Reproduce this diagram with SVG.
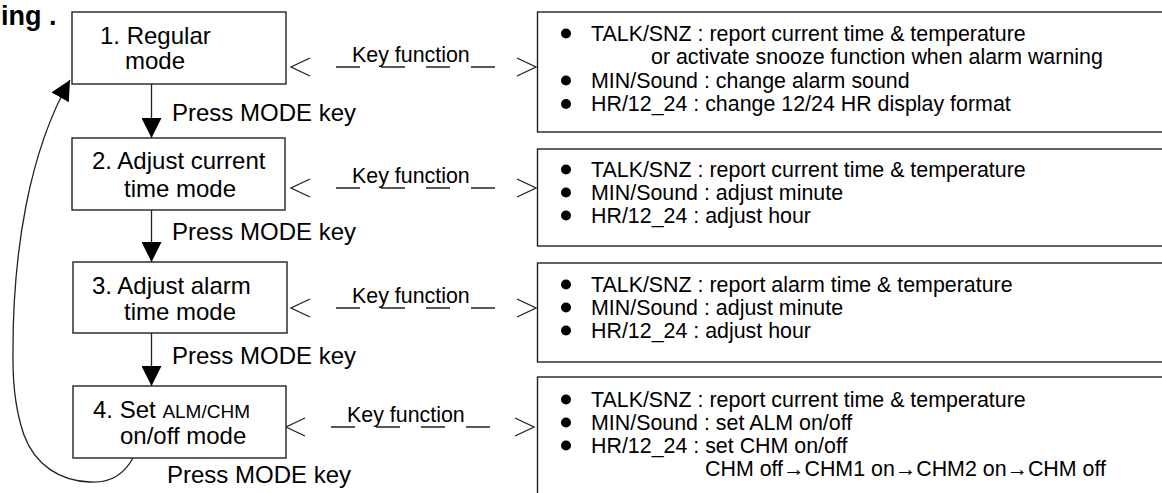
<svg xmlns="http://www.w3.org/2000/svg" width="1162" height="493" viewBox="0 0 1162 493">
<defs>
<marker id="ah" markerUnits="userSpaceOnUse" markerWidth="20" markerHeight="20" viewBox="0 0 20 20" refX="20" refY="10" orient="auto"><path d="M0,0 L20,10 L0,20 z" fill="#000"/></marker>
</defs>
<style>
.box{fill:#fff;stroke:#222;stroke-width:1.4}
.t{font-family:"Liberation Sans",Arial,sans-serif;fill:#000}
.lt{font-size:24px}
.sm{font-size:19px}
.rt{font-size:21.4px}
.conn{stroke:#222;stroke-width:1.3;fill:none}
.dash{stroke-dasharray:24 21}
.bul{fill:#000}
</style>
<rect width="1162" height="493" fill="#fff"/>
<text class="t" x="1" y="25" font-size="27" font-weight="bold">ing .</text>

<g id="connectors">
<line class="conn" x1="151.5" y1="84" x2="151.5" y2="138" marker-end="url(#ah)"/>
<line class="conn" x1="151.5" y1="210" x2="151.5" y2="262" marker-end="url(#ah)"/>
<line class="conn" x1="151.5" y1="333" x2="151.5" y2="386" marker-end="url(#ah)"/>
<path class="conn" d="M133,458 C122,478 105,483 90,482 C60,481 35,465 24,435 C16,412 13,390 13,360 C12,250 30,150 70,80" marker-end="url(#ah)"/>
<text class="t lt" x="172" y="121">Press MODE key</text>
<text class="t lt" x="172" y="240">Press MODE key</text>
<text class="t lt" x="172" y="364">Press MODE key</text>
<text class="t lt" x="167" y="483">Press MODE key</text>

<g id="kf1">
<polyline class="conn" points="310,58 291,67 310,76"/>
<line class="conn dash" x1="336" y1="67" x2="496" y2="67"/>
<polyline class="conn" points="517,58 536,67 517,76"/>
<text class="t rt" x="352" y="62">Key function</text>
</g>
<g id="kf2">
<polyline class="conn" points="310,179 291,188 310,197"/>
<line class="conn dash" x1="336" y1="188" x2="496" y2="188"/>
<polyline class="conn" points="517,179 536,188 517,197"/>
<text class="t rt" x="352" y="183">Key function</text>
</g>
<g id="kf3">
<polyline class="conn" points="310,299 291,308 310,317"/>
<line class="conn dash" x1="336" y1="308" x2="496" y2="308"/>
<polyline class="conn" points="517,299 536,308 517,317"/>
<text class="t rt" x="352" y="303">Key function</text>
</g>
<g id="kf4">
<polyline class="conn" points="305,418 286,427 305,436"/>
<line class="conn dash" x1="331" y1="427" x2="491" y2="427"/>
<polyline class="conn" points="515,418 534,427 515,436"/>
<text class="t rt" x="347" y="422">Key function</text>
</g>
</g>

<g id="mode1">
<rect class="box" x="72" y="12" width="214" height="72"/>
<text class="t lt" x="100" y="44">1. Regular</text>
<text class="t lt" x="125" y="69">mode</text>
</g>
<g id="mode2">
<rect class="box" x="72" y="138" width="213" height="72"/>
<text class="t lt" x="92" y="169">2. Adjust current</text>
<text class="t lt" x="124" y="197">time mode</text>
</g>
<g id="mode3">
<rect class="box" x="73" y="262" width="214" height="71"/>
<text class="t lt" x="92" y="294">3. Adjust alarm</text>
<text class="t lt" x="124" y="320">time mode</text>
</g>
<g id="mode4">
<rect class="box" x="73" y="386" width="213" height="72"/>
<text class="t lt" x="93" y="418">4. Set <tspan class="sm">ALM/CHM</tspan></text>
<text class="t lt" x="120" y="444">on/off mode</text>
</g>

<g id="keys1">
<rect class="box" x="537.5" y="12" width="700" height="120"/>
<circle class="bul" cx="566" cy="33.5" r="5"/>
<circle class="bul" cx="566" cy="80.5" r="5"/>
<circle class="bul" cx="566" cy="104" r="5"/>
<text class="t rt" x="591" y="41">TALK/SNZ : report current time &amp; temperature</text>
<text class="t rt" x="651" y="64">or activate snooze function when alarm warning</text>
<text class="t rt" x="591" y="88">MIN/Sound : change alarm sound</text>
<text class="t rt" x="591" y="111">HR/12_24 : change 12/24 HR display format</text>
</g>
<g id="keys2">
<rect class="box" x="537.5" y="149" width="700" height="97"/>
<circle class="bul" cx="566" cy="169.5" r="5"/>
<circle class="bul" cx="566" cy="192.5" r="5"/>
<circle class="bul" cx="566" cy="215.5" r="5"/>
<text class="t rt" x="591" y="177">TALK/SNZ : report current time &amp; temperature</text>
<text class="t rt" x="591" y="200">MIN/Sound : adjust minute</text>
<text class="t rt" x="591" y="223">HR/12_24 : adjust hour</text>
</g>
<g id="keys3">
<rect class="box" x="537.5" y="263" width="700" height="99"/>
<circle class="bul" cx="566" cy="284.5" r="5"/>
<circle class="bul" cx="566" cy="307.5" r="5"/>
<circle class="bul" cx="566" cy="330.5" r="5"/>
<text class="t rt" x="591" y="292">TALK/SNZ : report alarm time &amp; temperature</text>
<text class="t rt" x="591" y="315">MIN/Sound : adjust minute</text>
<text class="t rt" x="591" y="338">HR/12_24 : adjust hour</text>
</g>
<g id="keys4">
<rect class="box" x="537.5" y="377" width="700" height="200"/>
<circle class="bul" cx="566" cy="399.5" r="5"/>
<circle class="bul" cx="566" cy="422.5" r="5"/>
<circle class="bul" cx="566" cy="445.5" r="5"/>
<text class="t rt" x="591" y="407">TALK/SNZ : report current time &amp; temperature</text>
<text class="t rt" x="591" y="430">MIN/Sound : set ALM on/off</text>
<text class="t rt" x="591" y="453">HR/12_24 : set CHM on/off</text>
<text class="t rt" x="705" y="476">CHM off→CHM1 on→CHM2 on→CHM off</text>
</g>
</svg>
